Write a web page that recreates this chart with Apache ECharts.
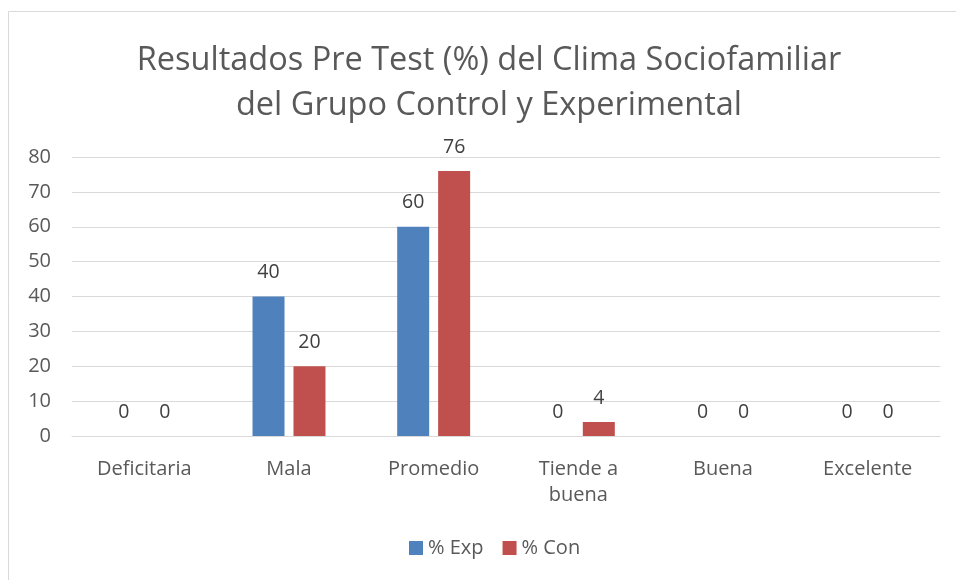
<!DOCTYPE html>
<html>
<head>
<meta charset="utf-8">
<script src="https://cdn.jsdelivr.net/npm/echarts@6/dist/echarts.min.js"></script>
<style>
  html, body { margin: 0; padding: 0; background: #fff; }
  #chart { width: 956px; height: 580px; }
</style>
</head>
<body>
<div id="chart"></div>
<script>
const categories = ["Deficitaria", "Mala", "Promedio", "Tiende a\nbuena", "Buena", "Excelente"]
const expValues = [0, 40, 60, 0, 0, 0]
const conValues = [0, 20, 76, 4, 0, 0]
const seriesNames = ["% Exp", "% Con"]

const chart = echarts.init(document.getElementById("chart"))
const font = "'Open Sans', 'Noto Sans', sans-serif"
const textColor = "#595959"

const label = {
  show: true,
  position: "top",
  distance: 14,
  color: "#404040",
  fontFamily: font,
  fontSize: 19.5
}

chart.setOption({
  animation: false,
  backgroundColor: "#fff",
  graphic: [
    {
      type: "rect",
      shape: { x: 8.5, y: 11.5, width: 960, height: 600 },
      style: { fill: "none", stroke: "#d9d9d9", lineWidth: 1 },
      silent: true
    }
  ],
  title: {
    text: "Resultados Pre Test (%) del Clima Sociofamiliar\ndel Grupo Control y Experimental",
    left: 484,
    textAlign: "center",
    top: 33,
    textStyle: {
      fontFamily: font,
      fontSize: 32.5,
      fontWeight: "normal",
      color: textColor,
      lineHeight: 45
    }
  },
  legend: {
    bottom: 17,
    left: 404,
    itemWidth: 14,
    itemHeight: 14,
    itemGap: 19,
    icon: "rect",
    textStyle: { fontFamily: font, fontSize: 20, color: textColor }
  },
  grid: {
    left: 72,
    right: 16,
    top: 157,
    bottom: 144
  },
  xAxis: {
    type: "category",
    data: categories,
    axisTick: { show: false },
    axisLine: { show: true, lineStyle: { color: "#d9d9d9" } },
    axisLabel: {
      color: textColor,
      fontFamily: font,
      fontSize: 20,
      lineHeight: 26,
      margin: 20,
      interval: 0
    }
  },
  yAxis: {
    type: "value",
    min: 0,
    max: 80,
    interval: 10,
    axisLine: { show: false },
    axisTick: { show: false },
    splitLine: { lineStyle: { color: "#d9d9d9", width: 1 } },
    axisLabel: {
      color: textColor,
      fontFamily: font,
      fontSize: 20,
      margin: 21
    }
  },
  series: [
    {
      name: seriesNames[0],
      type: "bar",
      data: expValues,
      barWidth: 32,
      barGap: "28%",
      itemStyle: { color: "#4f81bd" },
      label: label
    },
    {
      name: seriesNames[1],
      type: "bar",
      data: conValues,
      barWidth: 32,
      itemStyle: { color: "#c0504d" },
      label: label
    }
  ]
})
</script>
</body>
</html>
